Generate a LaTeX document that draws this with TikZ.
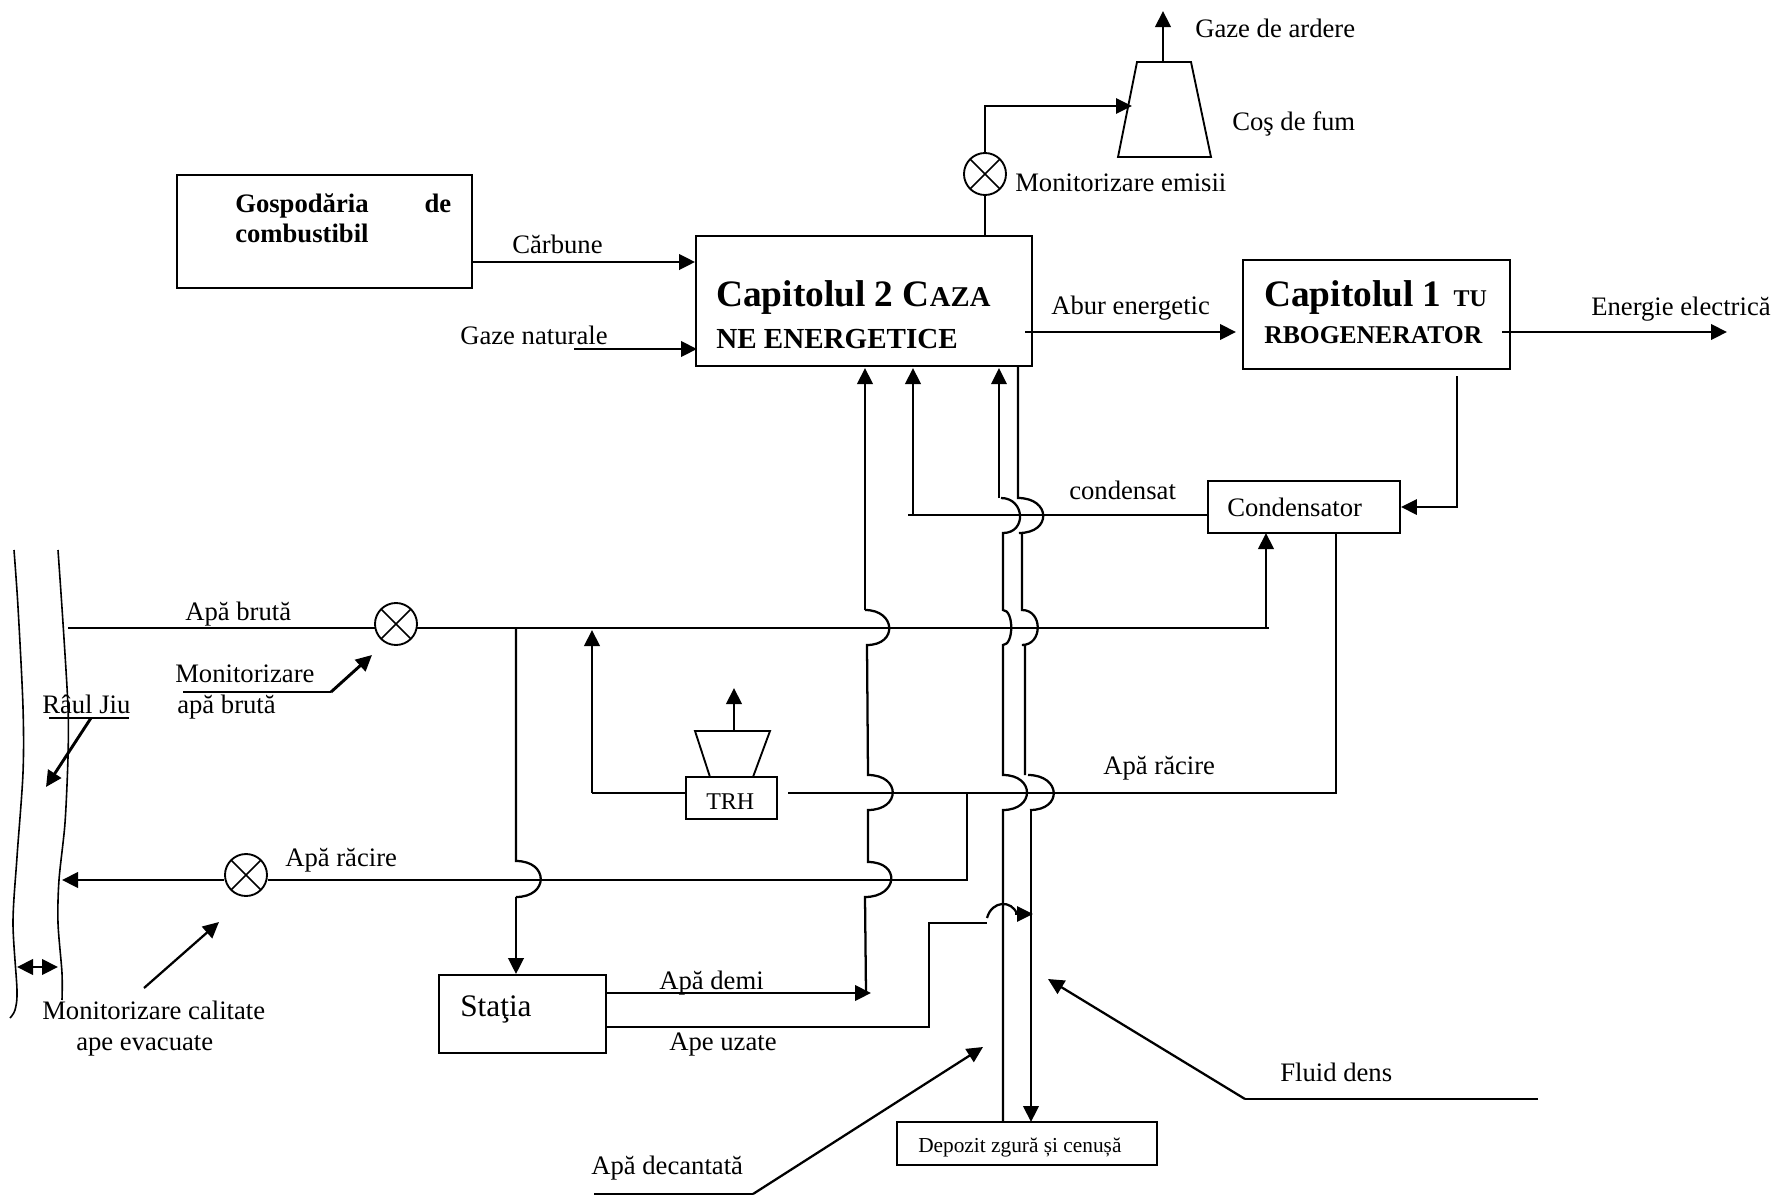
\documentclass[tikz,border=0pt]{standalone}
\usepackage{fontspec}
\setmainfont{Liberation Serif}
\usetikzlibrary{arrows.meta}

\begin{document}
\begin{tikzpicture}[
    x=0.75pt, y=-0.75pt,
    pipe/.style={line width=1.7pt},
    flow/.style={line width=1.7pt, -{Triangle[length=12pt, width=11.5pt]}},
    heavyflow/.style={line width=2.2pt, -{Triangle[length=12pt, width=11.5pt]}},
    box/.style={draw, line width=1.4pt, inner sep=0pt},
    meter/.style={draw, circle, line width=1.4pt, minimum size=31.5pt, inner sep=0pt,
        path picture={\draw[line width=1.2pt] (path picture bounding box.north west) -- (path picture bounding box.south east)
            (path picture bounding box.north east) -- (path picture bounding box.south west);}},
    txt/.style={anchor=base west, inner sep=0pt, font=\fontsize{20}{24}\selectfont},
    boldtxt/.style={txt, font=\fontsize{20}{23}\selectfont\bfseries},
    chapter/.style={txt, font=\fontsize{28}{32}\selectfont\bfseries},
    hop/.style={to path={.. controls +(#1,0) and +(#1,0) .. (\tikztotarget)}}
]
\useasboundingbox (0,0) rectangle (1775,1200);

% boxes
\node[box, minimum width=221.25pt, minimum height=84.75pt] (fuel) at (324.5,231.5) {};
\node[box, minimum width=252pt, minimum height=97.5pt] (boiler) at (864,301) {};
\node[box, minimum width=200.25pt, minimum height=81.75pt] (turbine) at (1376.5,314.5) {};
\node[box, minimum width=144pt, minimum height=39pt] (condenser) at (1304,507) {};
\node[box, minimum width=125.25pt, minimum height=58.5pt] (station) at (522.5,1014) {};
\node[box, minimum width=68.25pt, minimum height=31.5pt] (trh) at (731.5,798) {};
\node[box, minimum width=195pt, minimum height=32.25pt] (depot) at (1027,1143.5) {};

% meters
\node[meter] (mEmis) at (985,174) {};
\node[meter] (mRaw) at (396,624) {};
\node[meter] (mOut) at (246,875) {};

% chimneys
\draw[line width=1.4pt] (1137,62) -- (1191,62) -- (1211,157) -- (1118,157) -- cycle;
\draw[line width=1.4pt] (695,731) -- (770,731) -- (753,777) -- (710,777) -- cycle;
\coordinate (stackTop) at (1163,62);
\coordinate (stackOut) at (1163,11);
\coordinate (stackIn) at (1132,106);
\coordinate (trhTop) at (734,731);
\coordinate (trhOut) at (734,688);

% river
\draw[line width=1.2pt] plot[smooth] coordinates {(14,550) (18,607) (23,707) (23,773) (17,857) (13,923) (17,990) (15,1010) (10,1018)};
\draw[line width=1.2pt] plot[smooth] coordinates {(58,550) (63,623) (68,707) (68,757) (65,823) (59,880) (58,923) (62,973) (62,1000)};
\coordinate (bankL) at (17,967);
\coordinate (bankR) at (58,967);
\draw[line width=2.2pt, {Triangle[length=12pt, width=11.5pt]}-{Triangle[length=12pt, width=11.5pt]}] (bankL) -- (bankR);

% top part
\draw[heavyflow] (stackTop) -- (stackOut);
\draw[pipe] (mEmis.south) -- (boiler.north -| mEmis);
\draw[flow] (mEmis.north) -- (985,106) -- (stackIn);
\coordinate (coalOut) at (fuel.east |- 0,262);
\draw[heavyflow] (coalOut) -- (boiler.west |- coalOut);
\coordinate (gasIn) at (574,349);
\draw[heavyflow] (gasIn) -- (697,349);
\coordinate (steamOut) at (1025,332);
\coordinate (steamIn) at (1236,332);
\draw[heavyflow] (steamOut) -- (steamIn);
\coordinate (powerOut) at (1502,332);
\coordinate (powerEnd) at (1727,332);
\draw[heavyflow] (powerOut) -- (powerEnd);
\coordinate (exhaust) at (1457,376);
\draw[flow] (exhaust) -- (1457,507) -- (condenser.east);

% condensate return
\coordinate (condLeft) at (908,515);
\draw[pipe] (condLeft) -- (condenser.west |- condLeft);
\draw[heavyflow] (913,515) -- (913,368);

% raw water line
\coordinate (intake) at (68,628);
\coordinate (rawEnd) at (1269,628);
\draw[pipe] (intake) -- (375,628);
\draw[pipe] (417,628) -- (rawEnd);
\draw[heavyflow] (1266,628) -- (1266,533);

% cooling water line
\coordinate (coolEnd) at (1336,793);
\coordinate (trhIn) at (trh.west |- 0,793);
\draw[pipe] (788,793) -- (coolEnd) -- (condenser.south -| coolEnd);
\draw[pipe] (trhIn) -- (592,793);
\draw[heavyflow] (592,793) -- (592,630);
\draw[heavyflow] (trhTop) -- (trhOut);
\coordinate (outR) at (mOut.east |- 0,880);
\coordinate (outL) at (mOut.west |- 0,880);
\draw[pipe] (967,793) -- (967,880) -- (outR);
\draw[heavyflow] (outL) -- (62,880);

% risers with hops
\coordinate (riserA) at (865,368);
\draw[pipe] (866,993) -- (865,897) to[hop=33] (868,862) -- (868,810) to[hop=33] (868,775) -- (867,645) to[hop=31] (865,610);
\draw[heavyflow] (865,610) -- (riserA);
\coordinate (riserC) at (999,368);
\coordinate (ashIn) at (depot.north -| 1003,0);
\draw[pipe] (ashIn) -- (1003,810) to[hop=32] (1003,775) -- (1003,645) to[hop=11] (1003,610) -- (1003,533) to[hop=24] (1001,498);
\draw[flow] (999,498) -- (riserC);
\coordinate (drain) at (boiler.south -| 1018,0);
\draw[pipe] (drain) -- (1018,498) to[hop=33] (1019,533) -- (1022,533) -- (1022,610) to[hop=21] (1022,645) -- (1025,645) -- (1025,775);
\draw[pipe] (1028,775) to[hop=33] (1030,810);
\draw[heavyflow] (1031,810) -- (1031,1122);
\draw[pipe] (516,628) -- (516,861) to[hop=33] (516,897);
\draw[heavyflow] (516,897) -- (station.north -| 516,0);

% station outlets
\coordinate (demiOut) at (station.east |- 0,993);
\coordinate (wasteOut) at (station.east |- 0,1027);
\draw[heavyflow] (demiOut) -- (871,993);
\coordinate (wasteEnd) at (1033,914);
\draw[pipe] (wasteOut) -- (929,1027) -- (929,923) -- (987,923);
\draw[pipe] (987,918) .. controls (992,900) and (1012,900) .. (1017,914);
\draw[flow] (1015,914) -- (wasteEnd);

% callouts
\coordinate (rawNote) at (183,692);
\coordinate (rawNoteEnd) at (331,692);
\coordinate (rawTip) at (372,655);
\draw[pipe] (rawNote) -- (rawNoteEnd);
\draw[heavyflow] (rawNoteEnd) -- (rawTip);
\coordinate (riverNote) at (49,718);
\coordinate (riverNoteEnd) at (129,718);
\coordinate (riverTip) at (46,787);
\draw[pipe] (riverNote) -- (riverNoteEnd);
\draw[heavyflow] (91,718) -- (riverTip);
\coordinate (qualityFrom) at (144,988);
\coordinate (qualityTip) at (219,922);
\draw[flow] (qualityFrom) -- (qualityTip);
\coordinate (denseA) at (1538,1099);
\coordinate (denseB) at (1245,1099);
\coordinate (denseTip) at (1048,979);
\draw[pipe] (denseA) -- (denseB);
\draw[flow] (denseB) -- (denseTip);
\coordinate (decantA) at (594,1194);
\coordinate (decantB) at (753,1194);
\coordinate (decantTip) at (983,1047);
\draw[pipe] (decantA) -- (decantB);
\draw[flow] (decantB) -- (decantTip);

% box labels
\node[boldtxt, anchor=north west, text width=162pt] (fuelText) at (235,193) {Gospodăria\hfill de\\combustibil};
\node[chapter] (boilerText) at (716,306) {Capitolul 2 C{\fontsize{21.5}{24}\selectfont AZA}};
\node[chapter, font=\fontsize{21.8}{24}\selectfont\bfseries] (boilerSub) at (716,348) {NE ENERGETICE};
\node[chapter] (turbineText) at (1264,306) {Capitolul 1 \kern2pt{\fontsize{18}{22}\selectfont TU}};
\node[chapter, font=\fontsize{19.2}{24}\selectfont\bfseries] (turbineSub) at (1264,343) {RBOGENERATOR};
\node[txt] (condText) at (1227,516) {Condensator};
\node[txt, font=\fontsize{23.5}{28}\selectfont] (stationText) at (460,1016) {Staţia};
\node[txt, font=\fontsize{18}{22}\selectfont] (trhText) at (706,809) {TRH};
\node[txt, font=\fontsize{16}{20}\selectfont] (depotText) at (918,1152) {Depozit zgură și cenușă};

% flow labels
\node[txt] (lbExhaust) at (1195,37) {Gaze de ardere};
\node[txt] (lbStack) at (1232,130) {Coş de fum};
\node[txt] (lbEmis) at (1015,191) {Monitorizare emisii};
\node[txt] (lbCoal) at (512,253) {Cărbune};
\node[txt] (lbGas) at (460,344) {Gaze naturale};
\node[txt] (lbSteam) at (1051,314) {Abur energetic};
\node[txt] (lbPower) at (1591,315) {Energie electrică};
\node[txt] (lbCond) at (1069,499) {condensat};
\node[txt] (lbRaw) at (185,620) {Apă brută};
\node[txt] (lbMonRaw) at (175,682) {Monitorizare};
\node[txt] (lbMonRawB) at (177,713) {apă brută};
\node[txt] (lbRiver) at (42,713) {Râul Jiu};
\node[txt] (lbCoolOut) at (285,866) {Apă răcire};
\node[txt] (lbCool) at (1103,774) {Apă răcire};
\node[txt] (lbQuality) at (42,1019) {Monitorizare calitate};
\node[txt] (lbQualityB) at (76,1050) {ape evacuate};
\node[txt] (lbDemi) at (659,989) {Apă demi};
\node[txt] (lbWaste) at (669,1050) {Ape uzate};
\node[txt] (lbDense) at (1280,1081) {Fluid dens};
\node[txt] (lbDecant) at (591,1174) {Apă decantată};

\end{tikzpicture}
\end{document}
